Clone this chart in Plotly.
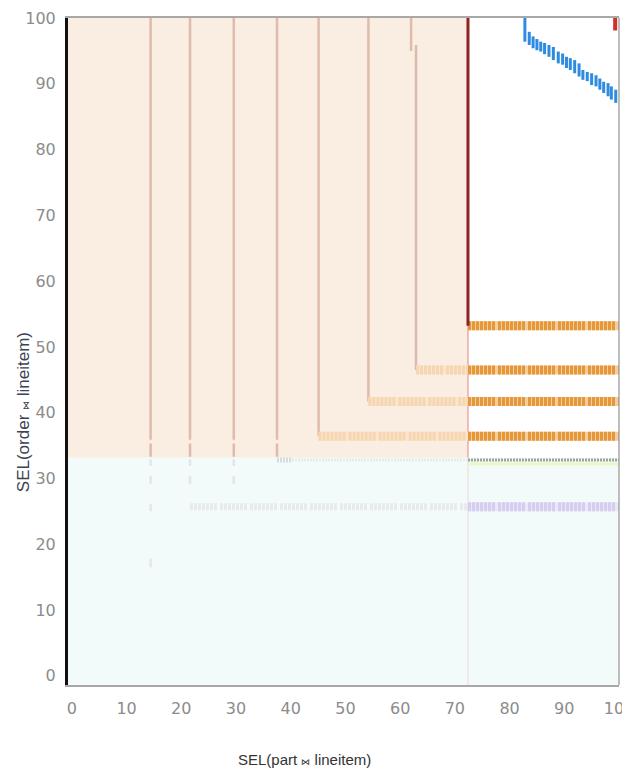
import plotly.graph_objects as go

# ---- axis ranges / ticks ----
X_RANGE = [-0.7, 100]
Y_RANGE = [-1.4, 100]
X_TICKS = [0, 10, 20, 30, 40, 50, 60, 70, 80, 90, 100]
Y_TICKS = [0, 10, 20, 30, 40, 50, 60, 70, 80, 90, 100]

# ---- region boundaries ----
SPLIT_X = 72.4        # plan switch along x
SPLIT_Y = 33.2        # plan switch along y

# ---- vertical boundary segments (x, y_bottom, y_top) ----
VSEG_X = [14.4, 14.4, 21.6, 21.6, 29.6, 29.6, 37.5, 37.5, 45.1, 54.2, 62.0, 62.9]
VSEG_Y0 = [35.9, 33.3, 35.9, 33.3, 35.9, 33.3, 35.9, 33.3, 36.4, 41.7, 95.0, 46.5]
VSEG_Y1 = [100, 35.3, 100, 35.3, 100, 35.3, 100, 35.3, 100, 100, 100, 95.9]

# faint ticks below the split
FAINT_X = [14.4, 21.6, 29.6, 14.4, 21.6, 29.6, 14.4, 14.4]
FAINT_Y0 = [31.9, 31.9, 31.9, 29.2, 29.2, 29.2, 25.0, 16.5]
FAINT_Y1 = [32.9, 32.9, 32.9, 30.4, 30.4, 30.4, 26.1, 17.8]

# ---- horizontal orange rows ----
ROW_Y = [53.2, 46.5, 41.7, 36.4]
ROW_LIGHT_X0 = [None, 62.9, 54.2, 45.1]
ROW_END = 100

# other rows
GRAY_ROW_Y = 32.8
GRAY_ROW_FAINT_X0 = 37.5
YG_ROW_Y = 32.2
LAV_ROW_Y = 25.7
LAV_ROW_FAINT_X0 = 21.6

# ---- blue staircase (x, y_bottom, y_top) ----
BLUE_X = [82.8, 83.6, 84.3, 85.0, 85.7, 86.4, 87.2, 88.0, 88.9, 89.7, 90.4, 91.1,
          91.9, 92.7, 93.4, 94.2, 95.0, 95.8, 96.5, 97.2, 98.0, 98.6, 99.4]
BLUE_TOP = [100, 97.9, 97.2, 96.8, 96.4, 96.2, 95.9, 95.6, 94.9, 94.6, 94.1, 93.9,
            93.6, 93.1, 92.1, 91.8, 91.6, 91.3, 90.8, 90.3, 90.1, 89.6, 89.1]
BLUE_BOT = [96.4, 95.9, 95.4, 95.1, 94.9, 94.5, 94.1, 93.6, 93.1, 92.9, 92.4, 92.1,
            91.6, 91.1, 90.6, 90.4, 89.8, 89.6, 89.1, 88.6, 88.1, 87.6, 87.1]

# red block top right
RED_X = 99.3
RED_Y = [98.1, 100]

# ---- colours ----
PEACH = "#FAEDE1"
CYAN = "#F3FAFA"
VLINE = "#DFBBAE"
DARKRED = "#8E2323"
ORANGE = "#E5973A"
ORANGE_BG = "#F3CFA0"
LORANGE = "#F5D6B0"
LORANGE_BG = "#F9E6D2"
BLUE = "#2E8BE0"

STRIPE = ",".join(["3px,1px"] * 6 + ["3px,3px"])
STRIPE_SMALL = "2px,1px"


def seg(fig, xs, ys, color, width, dash="solid"):
    fig.add_trace(go.Scatter(x=xs, y=ys, mode="lines",
                             line=dict(color=color, width=width, dash=dash),
                             hoverinfo="skip", showlegend=False))


fig = go.Figure()

shapes = [
    dict(type="rect", xref="x", yref="y", x0=X_RANGE[0], x1=SPLIT_X, y0=SPLIT_Y, y1=Y_RANGE[1],
         fillcolor=PEACH, line=dict(width=0), layer="below"),
    dict(type="rect", xref="x", yref="y", x0=SPLIT_X, x1=X_RANGE[1], y0=SPLIT_Y, y1=Y_RANGE[1],
         fillcolor="white", line=dict(width=0), layer="below"),
    dict(type="line", xref="paper", yref="paper", x0=1, x1=1, y0=0, y1=1,
         line=dict(color="#A8A8A8", width=1.5)),
]

seg(fig, [SPLIT_X, SPLIT_X], [Y_RANGE[0], SPLIT_Y], "#EBDADA", 1)
seg(fig, [SPLIT_X, SPLIT_X], [SPLIT_Y, ROW_Y[0]], "#E99595", 1.2)

seg(fig, [GRAY_ROW_FAINT_X0, SPLIT_X], [GRAY_ROW_Y, GRAY_ROW_Y], "#E6ECEC", 3, STRIPE_SMALL)
seg(fig, [GRAY_ROW_FAINT_X0, GRAY_ROW_FAINT_X0 + 2.8], [GRAY_ROW_Y, GRAY_ROW_Y], "#D8DCDC", 5, STRIPE_SMALL)
seg(fig, [LAV_ROW_FAINT_X0, SPLIT_X], [LAV_ROW_Y, LAV_ROW_Y], "#E8EAEE", 7, STRIPE)

for x, y0, y1 in zip(FAINT_X, FAINT_Y0, FAINT_Y1):
    seg(fig, [x, x], [y0, y1], "#E2E6E6", 2.5)

for x, y0, y1 in zip(VSEG_X, VSEG_Y0, VSEG_Y1):
    seg(fig, [x, x], [y0, y1], VLINE, 2.5)

for y, lx0 in zip(ROW_Y, ROW_LIGHT_X0):
    if lx0 is not None:
        seg(fig, [lx0, SPLIT_X], [y, y], LORANGE_BG, 9)
        seg(fig, [lx0, SPLIT_X], [y, y], LORANGE, 9, STRIPE)
    seg(fig, [SPLIT_X, ROW_END], [y, y], ORANGE_BG, 9)
    seg(fig, [SPLIT_X, ROW_END], [y, y], ORANGE, 9, STRIPE)

seg(fig, [SPLIT_X, ROW_END], [GRAY_ROW_Y, GRAY_ROW_Y], "#9AA69A", 3, STRIPE_SMALL)
seg(fig, [SPLIT_X, ROW_END], [YG_ROW_Y, YG_ROW_Y], "#EEF5C6", 3)
seg(fig, [SPLIT_X, ROW_END], [LAV_ROW_Y, LAV_ROW_Y], "#ECE8F8", 9)
seg(fig, [SPLIT_X, ROW_END], [LAV_ROW_Y, LAV_ROW_Y], "#D6CEF0", 9, STRIPE)

seg(fig, [SPLIT_X, SPLIT_X], [ROW_Y[0], Y_RANGE[1]], DARKRED, 3)

for x, y0, y1 in zip(BLUE_X, BLUE_BOT, BLUE_TOP):
    seg(fig, [x, x], [y0, y1], BLUE, 3)

seg(fig, [RED_X, RED_X], RED_Y, "#D0302A", 4)

JOIN = '<span style="font-size:9px">⋈</span>'

fig.update_layout(
    template="none",
    width=622, height=770, autosize=False,
    margin=dict(l=60, r=11, t=10, b=93, pad=0, autoexpand=False),
    paper_bgcolor="white", plot_bgcolor=CYAN,
    shapes=shapes,
    showlegend=False,
    xaxis=dict(range=X_RANGE, tickvals=X_TICKS, showgrid=False, zeroline=False,
               automargin=False,
               showline=True, linecolor="#A8A8A8", linewidth=1.5, mirror=True,
               ticks="", ticklabelstandoff=8, ticklabeloverflow="allow",
               tickfont=dict(family="DejaVu Sans", size=16, color="#8C8C8C")),
    yaxis=dict(range=Y_RANGE, tickvals=Y_TICKS, showgrid=False, zeroline=False,
               automargin=False,
               showline=True, linecolor="#111111", linewidth=3,
               ticks="", ticklabelstandoff=6, ticklabeloverflow="allow",
               tickfont=dict(family="DejaVu Sans", size=16, color="#8C8C8C")),
    annotations=[
        dict(text="SEL(part " + JOIN + " lineitem)", xref="paper", yref="paper",
             x=0.43, y=-0.1124, xanchor="center", yanchor="middle", showarrow=False,
             font=dict(family="Liberation Sans", size=15, color="#333333")),
        dict(text="SEL(order " + JOIN + " lineitem)", xref="paper", yref="paper",
             x=-0.0817, y=0.409, xanchor="center", yanchor="middle", showarrow=False,
             textangle=-90,
             font=dict(family="Liberation Sans", size=17, color="#3A4452")),
    ],
)

fig.write_html("out.html")
